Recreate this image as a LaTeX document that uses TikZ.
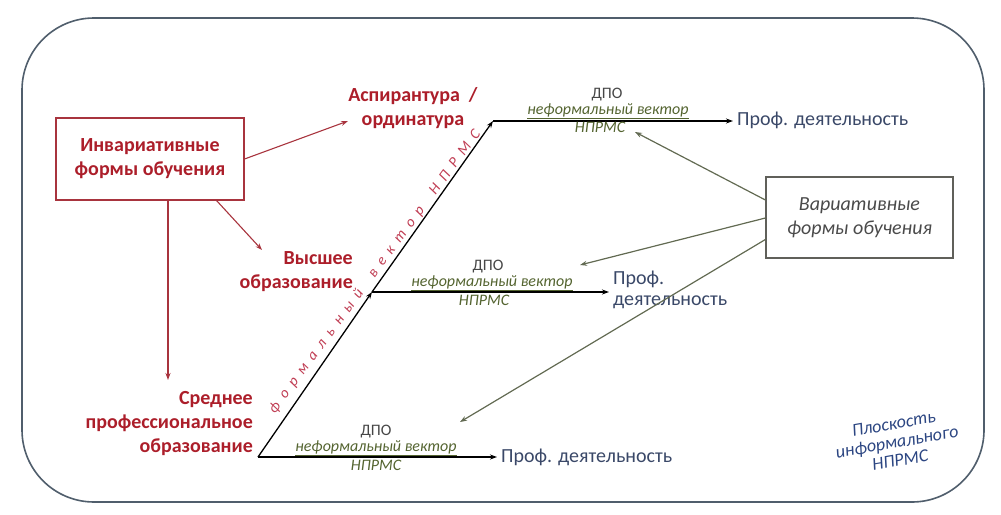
\documentclass[tikz,border=0pt]{standalone}
\usepackage{fontspec}
\setmainfont{Carlito}
\usetikzlibrary{arrows.meta,decorations.text}
\definecolor{redtxt}{RGB}{172,30,42}
\definecolor{redln}{RGB}{168,52,62}
\definecolor{formtxt}{RGB}{192,62,84}
\definecolor{frame}{RGB}{80,94,108}
\definecolor{olivearr}{RGB}{98,106,82}
\definecolor{olivetxt}{RGB}{84,100,48}
\definecolor{slate}{RGB}{58,72,104}
\definecolor{dpo}{RGB}{70,70,70}
\definecolor{vartxt}{RGB}{74,74,74}
\definecolor{varbd}{RGB}{96,96,90}
\definecolor{planetxt}{RGB}{44,70,130}
\tikzset{
  redbox/.style={draw=redln, line width=1.1pt, minimum width=188pt, minimum height=82pt,
    align=center, text=redtxt, font=\fontsize{20}{24}\selectfont\bfseries},
  redlbl/.style={text=redtxt, font=\fontsize{20}{24}\selectfont\bfseries, inner sep=0pt},
  redarrow/.style={draw=redln, line width=1.1pt, -{Stealth[length=7pt,width=5pt]}},
  vecarrow/.style={draw=black, line width=1.3pt, -{Stealth[length=7pt,width=5pt]}},
  olivearrow/.style={draw=olivearr, line width=1.2pt, -{Stealth[length=7pt,width=5pt]}},
  proflbl/.style={text=slate, font=\fontsize{20}{21}\selectfont, inner sep=4pt, anchor=west, align=left},
  dpolbl/.style={text=dpo, font=\fontsize{16}{17}\selectfont, inner sep=0pt},
  vlbl/.style={text=olivetxt, font=\fontsize{16}{17}\selectfont\itshape, inner sep=0pt},
  varbox/.style={draw=varbd, line width=1.2pt, minimum width=187pt, minimum height=81pt,
    align=center, text=vartxt, font=\fontsize{20}{24}\selectfont\itshape},
  planelbl/.style={text=planetxt, font=\fontsize{18}{18.5}\selectfont\itshape, align=center, inner sep=0pt}
}
\begin{document}
\begin{tikzpicture}[x=1pt,y=-1pt]
\useasboundingbox (0,0) rectangle (1001,514);
% outer frame
\draw[frame, line width=1.6pt, rounded corners=72pt] (22,18) rectangle (984,502);

% invariant part
\node[redbox] (inv) at (150,159) {Инвариативные\\формы обучения};
\node[redlbl, align=center] (asp) at (413,108) {Аспирантура~~/\\ординатура};
\node[redlbl, align=right, anchor=east] (vys) at (353,272) {Высшее\\образование};
\node[redlbl, align=right, anchor=east] (spo) at (253,424) {Среднее\\профессиональное\\образование};

\coordinate (aspTip) at (348,121);
\coordinate (vysTip) at (262,250);
\coordinate (spoTip) at (168,380);
\draw[redarrow] (inv.east) -- (aspTip);
\draw[redarrow] ([xshift=-28pt]inv.south east) -- (vysTip);
\draw[redarrow] ([xshift=18pt]inv.south) -- (spoTip);

% formal vector
\coordinate (S) at (258,457);
\coordinate (H) at (372,292);
\coordinate (A) at (493,121);
\draw[vecarrow] (S) -- (H);
\draw[vecarrow] (H) -- (A);
\path[decorate, decoration={text along path,
   text={|\itshape\fontsize{15}{17}\selectfont|формальный вектор НПРМС},
   text align=fit to path, text color=formtxt}] (275,414) -- (481,134);

% professional activity
\node[proflbl] (p1) at (733,120) {Проф. деятельность};
\node[proflbl] (p2) at (609,290) {Проф.\\деятельность};
\node[proflbl] (p3) at (497,457) {Проф. деятельность};
\draw[vecarrow] (A) -- (A -| p1.west);
\draw[vecarrow] (H) -- (H -| p2.west);
\draw[vecarrow] (S) -- (S -| p3.west);

% DPO labels
\node[dpolbl] (d1) at (607,95) {ДПО};
\node[vlbl] (v1) at (608,111) {\underline{неформальный вектор}};
\node[vlbl] (n1) at (600,127) {НПРМС};
\node[dpolbl] (d2) at (488,267) {ДПО};
\node[vlbl] (v2) at (492,283) {\underline{неформальный вектор}};
\node[vlbl] (n2) at (484,300) {НПРМС};
\node[dpolbl] (d3) at (376,432) {ДПО};
\node[vlbl] (v3) at (376,448) {\underline{неформальный вектор}};
\node[vlbl] (n3) at (376,465) {НПРМС};

% variative part
\node[varbox] (var) at (859.5,217.5) {Вариативные\\формы обучения};
\coordinate (t1) at (635,132);
\coordinate (t2) at (580,265);
\coordinate (t3) at (460,422);
\draw[olivearrow] ([yshift=17.5pt]var.west) -- (t1);
\draw[olivearrow] ([yshift=-0.5pt]var.west) -- (t2);
\draw[olivearrow] ([yshift=-22pt]var.west) -- (t3);

\node[planelbl, rotate=10] (pl) at (897,442) {Плоскость\\информального\\НПРМС};
\end{tikzpicture}
\end{document}
